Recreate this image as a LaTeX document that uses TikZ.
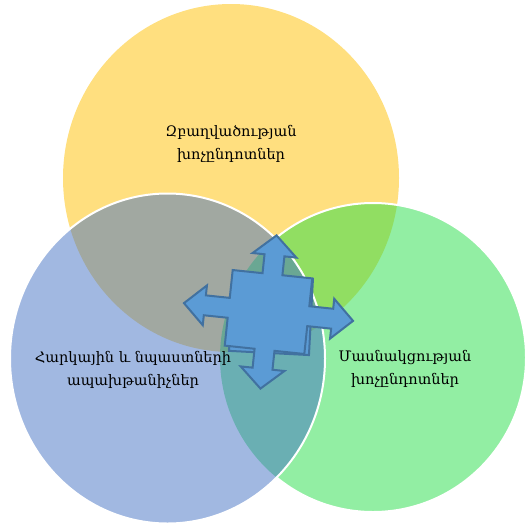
\documentclass[tikz,border=0pt]{standalone}
\usepackage{fontspec}
\setmainfont{DejaVu Serif}
\definecolor{cyel}{RGB}{255,192,0}
\definecolor{cblu}{RGB}{68,114,196}
\definecolor{cgrn}{RGB}{37,221,71}
\definecolor{afill}{RGB}{91,155,213}
\definecolor{aline}{RGB}{65,113,160}
\tikzset{
  venn/.style={fill opacity=0.5},
  rim/.style={draw=white, line width=2pt},
  lbl/.style={align=center, text=black, font=\fontsize{14.5}{22.5}\selectfont},
  quad/.style={fill=afill, draw=aline, line width=2pt, line join=miter}
}
\begin{document}
\begin{tikzpicture}[x=1pt,y=-1pt]
\useasboundingbox (0,0) rectangle (526,525);
% yellow
\path[venn, fill=cyel] (231,178) ellipse [x radius=168pt, y radius=174pt];
% green
\path[venn, fill=cgrn] (373,357.5) ellipse [x radius=153pt, y radius=154.5pt];
\begin{scope}[even odd rule]
  \clip (-10,-10) rectangle (540,540) (167.5,358.5) ellipse [x radius=157.5pt, y radius=165pt];
  \path[rim] (373,357.5) ellipse [x radius=153pt, y radius=154.5pt];
\end{scope}
% blue
\path[venn, fill=cblu] (167.5,358.5) ellipse [x radius=157.5pt, y radius=165pt];
\path[rim] (167.5,358.5) ellipse [x radius=157.5pt, y radius=165pt];
% labels
\node[lbl] (ty) at (231,144) {Զբաղվածության\\խոչընդոտներ};
\node[lbl] (tb) at (133,370) {Հարկային և նպաստների\\ապախթանիչներ};
\node[lbl] (tg) at (405,369) {Մասնակցության\\խոչընդոտներ};
% central quad arrow
\begin{scope}[shift={(271,315)}, rotate=-3]
  \path[quad] (-40,-38) rectangle (40,38);
\end{scope}
\begin{scope}[shift={(268.5,312)}, rotate=-6]
  \path[quad] (0,-77) -- (22,-57) -- (10,-57) -- (10,-38) -- (40,-38) -- (40,-10) -- (64,-10) -- (64,-20) -- (85,0) -- (64,20) -- (64,10) -- (40,10) -- (40,38) -- (10,38) -- (10,57) -- (22,57) -- (0,77) -- (-22,57) -- (-10,57) -- (-10,38) -- (-40,38) -- (-40,10) -- (-64,10) -- (-64,20) -- (-85,0) -- (-64,-20) -- (-64,-10) -- (-40,-10) -- (-40,-38) -- (-10,-38) -- (-10,-57) -- (-22,-57) -- cycle;
\end{scope}
\end{tikzpicture}
\end{document}
